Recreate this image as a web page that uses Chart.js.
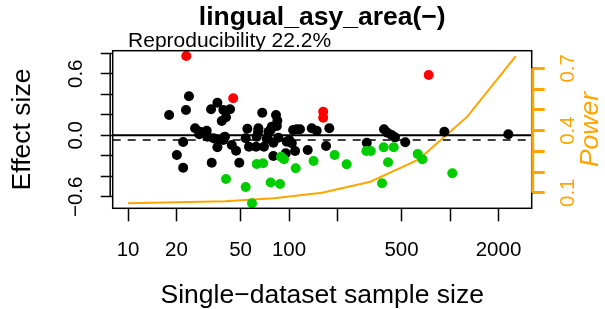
<!DOCTYPE html>
<html>
<head>
<meta charset="utf-8">
<script src="https://cdn.jsdelivr.net/npm/chart.js@4"></script>
<style>
  html, body { margin: 0; padding: 0; background: #fff; }
  #wrap { width: 605px; height: 309px; }
</style>
</head>
<body>
<div id="wrap"><canvas id="plot" width="605" height="309"></canvas></div>
<script>
// sample sizes (x) and effect sizes (y) for each group of datasets
const blackN = [18.0, 23.9, 22.9, 26.1, 27.7, 30.8, 22.0, 20.1, 22.0, 32.8, 35.9, 39.1, 43.0, 40.6, 38.2,
  35.2, 39.5, 35.9, 33.1, 44.1, 46.9, 49.1, 55.1, 53.8, 56.4, 62.4, 64.5, 68.2, 69.9, 72.7, 76.9, 79.9,
  79.9, 83.0, 84.6, 84.0, 95.4, 100.4, 109, 111.6, 117, 130.6, 138.4, 148.6, 169.8, 177.9, 304, 389,
  408, 434, 455, 527, 922, 2302, 28.0, 31.1, 33.9, 39.1, 64.2, 74.4, 40, 63, 73.7, 85.8, 96.8, 106, 78.1, 104];
const blackES = [0.198, 0.380, 0.247, 0.068, 0.010, 0.045, -0.065, -0.192, -0.316, 0.254, 0.318, 0.247, 0.254, 0.176, 0.140,
  -0.039, -0.020, -0.117, -0.267, -0.095, -0.150, -0.267, 0.064, -0.029, -0.111, -0.111, 0.068, 0.220, -0.111, -0.036, 0.052, -0.072,
  -0.202, 0.198, 0.142, 0.091, -0.176, -0.046, -0.153, 0.059, 0.059, -0.143, 0.068, 0.045, -0.104, 0.068, -0.072, 0.059,
  0.025, 0.003, -0.020, -0.068, 0.035, 0.010, 0.035, -0.014, -0.029, -0.046, 0.035, 0.035, -0.014, -0.014, -0.029, -0.023, -0.062, 0.052, 0.084, -0.078];

const greenN = [40.6, 53.8, 58.9, 63.0, 69.0, 76.9, 87.9, 89.2, 93.0, 110, 142, 192, 228, 302, 322, 378, 387, 412, 447, 630, 673, 1033];
const greenES = [-0.426, -0.504, -0.663, -0.280, -0.273, -0.460, -0.475, -0.209, -0.234, -0.322, -0.251, -0.192, -0.283,
  -0.153, -0.153, -0.468, -0.117, -0.263, -0.117, -0.182, -0.234, -0.371];

const redN = [23, 45, 163, 163, 737];
const redES = [0.774, 0.361, 0.230, 0.172, 0.588];

// power curve
const powerN = [10, 20, 40, 80, 160, 320, 640, 1280, 2560];
const powerVal = [0.049, 0.054, 0.059, 0.073, 0.10, 0.153, 0.261, 0.467, 0.759];

// axes
const xTicks = [10, 20, 50, 100, 200, 500, 1000, 2000];
const xLabels = ["10", "20", "50", "100", "", "500", "", "2000"];
const yTicks = [-0.6, -0.4, -0.2, 0, 0.2, 0.4, 0.6, 0.8];
const yLabelVals = [-0.6, 0, 0.6];
const yLabels = ["\u22120.6", "0.0", "0.6"];
const pTicks = [0.1, 0.2, 0.3, 0.4, 0.5, 0.6, 0.7];
const pLabelVals = [0.1, 0.4, 0.7];
const pLabels = ["0.1", "0.4", "0.7"];

const zeroLine = 0;
const meanLine = -0.046;

const titleText = "lingual_asy_area(\u2212)";
const subText = "Reproducibility 22.2%";

const ORANGE = "#FFA500";
const FONT = "'Liberation Sans', Arial, sans-serif";

Chart.defaults.font.family = FONT;
Chart.defaults.color = "#000";

const pts = (xs, ys) => xs.map((x, i) => ({ x, y: ys[i] }));

const decor = {
  id: "decor",
  beforeDatasetsDraw(chart) {
    const { ctx, chartArea: a, scales } = chart;
    ctx.save();
    ctx.strokeStyle = "#000";
    ctx.lineWidth = 2;
    let y0 = scales.y.getPixelForValue(zeroLine);
    ctx.beginPath(); ctx.moveTo(a.left, y0); ctx.lineTo(a.right, y0); ctx.stroke();
    ctx.lineWidth = 1.6;
    ctx.setLineDash([8, 7]);
    let ym = scales.y.getPixelForValue(meanLine);
    ctx.beginPath(); ctx.moveTo(a.left, ym); ctx.lineTo(a.right, ym); ctx.stroke();
    ctx.restore();
  },
  afterDraw(chart) {
    const { ctx, chartArea: a, scales } = chart;
    ctx.save();
    // box
    ctx.strokeStyle = "#000";
    ctx.lineWidth = 1.5;
    ctx.strokeRect(a.left, a.top, a.right - a.left, a.bottom - a.top);
    // left axis line
    ctx.beginPath();
    ctx.moveTo(a.left - 2.5, scales.y.getPixelForValue(yTicks[yTicks.length - 1]));
    ctx.lineTo(a.left - 2.5, scales.y.getPixelForValue(yTicks[0]));
    ctx.stroke();
    // right power axis line
    ctx.strokeStyle = ORANGE;
    ctx.lineWidth = 3;
    ctx.beginPath();
    ctx.moveTo(a.right + 1, scales.y2.getPixelForValue(pTicks[0]));
    ctx.lineTo(a.right + 1, scales.y2.getPixelForValue(pTicks[pTicks.length - 1]));
    ctx.stroke();

    // rotated tick labels
    ctx.textAlign = "center";
    ctx.textBaseline = "middle";
    ctx.font = "20.5px " + FONT;
    ctx.fillStyle = "#000";
    yLabelVals.forEach((v, i) => {
      ctx.save();
      ctx.translate(76.5, scales.y.getPixelForValue(v));
      ctx.rotate(-Math.PI / 2);
      ctx.fillText(yLabels[i], 0, 0);
      ctx.restore();
    });
    ctx.fillStyle = ORANGE;
    pLabelVals.forEach((v, i) => {
      ctx.save();
      ctx.translate(568, scales.y2.getPixelForValue(v));
      ctx.rotate(-Math.PI / 2);
      ctx.fillText(pLabels[i], 0, 0);
      ctx.restore();
    });
    ctx.save();
    ctx.font = "italic 26.5px " + FONT;
    ctx.translate(591, (a.top + a.bottom) / 2);
    ctx.rotate(-Math.PI / 2);
    ctx.fillText("Power", 0, 0);
    ctx.restore();

    // titles
    ctx.fillStyle = "#000";
    ctx.textBaseline = "alphabetic";
    ctx.font = "bold 26.5px " + FONT;
    ctx.fillText(titleText, (a.left + a.right) / 2, 25);
    ctx.textAlign = "left";
    ctx.font = "21px " + FONT;
    ctx.fillText(subText, scales.x.getPixelForValue(10), 47);
    ctx.restore();
  }
};

new Chart(document.getElementById("plot"), {
  type: "scatter",
  data: {
    datasets: [
      { data: pts(powerN, powerVal), yAxisID: "y2", showLine: true, borderColor: ORANGE, borderWidth: 2,
        pointRadius: 0, tension: 0, fill: false, order: 4 },
      { data: pts(blackN, blackES), backgroundColor: "#000", pointRadius: 5, pointBorderWidth: 0, order: 3 },
      { data: pts(greenN, greenES), backgroundColor: "#00CD00", pointRadius: 5, pointBorderWidth: 0, order: 2 },
      { data: pts(redN, redES), backgroundColor: "#FF0000", pointRadius: 5, pointBorderWidth: 0, order: 1 }
    ]
  },
  options: {
    responsive: false,
    animation: false,
    devicePixelRatio: 1,
    layout: { padding: { top: 50.7, left: 0, right: 0, bottom: 0 } },
    plugins: { legend: { display: false }, tooltip: { enabled: false } },
    scales: {
      x: {
        type: "logarithmic",
        min: 8.03, max: 3216,
        afterBuildTicks: s => { s.ticks = xTicks.map(v => ({ value: v })); },
        afterFit: s => { s.height = 100.7; },
        ticks: {
          autoSkip: false, maxRotation: 0, minRotation: 0, padding: 17,
          font: { size: 20.5 }, color: "#000",
          callback: (v) => xLabels[xTicks.indexOf(v)] ?? ""
        },
        grid: { drawOnChartArea: false, drawTicks: true, tickLength: 13, tickWidth: 1.5, tickColor: "#000" },
        border: { display: false },
        title: { display: true, text: "Single\u2212dataset sample size", font: { size: 26.5, lineHeight: 1 },
          padding: { top: 0, bottom: 0 }, color: "#000" }
      },
      y: {
        position: "left",
        min: -0.712, max: 0.825,
        afterBuildTicks: s => { s.ticks = yTicks.map(v => ({ value: v })); },
        afterFit: s => { s.width = 112.7; },
        ticks: { display: false },
        grid: { drawOnChartArea: false, drawTicks: true, tickLength: 12, tickWidth: 1.5, tickColor: "#000" },
        border: { display: false },
        title: { display: true, text: "Effect size", font: { size: 26.5, lineHeight: 1 },
          padding: { top: 9.5, bottom: 0 }, color: "#000" }
      },
      y2: {
        position: "right",
        min: 0.025, max: 0.785,
        afterBuildTicks: s => { s.ticks = pTicks.map(v => ({ value: v })); },
        afterFit: s => { s.width = 73.3; },
        ticks: { display: false },
        grid: { drawOnChartArea: false, drawTicks: true, tickLength: 13, tickWidth: 3, tickColor: ORANGE },
        border: { display: false }
      }
    }
  },
  plugins: [decor]
});
</script>
</body>
</html>
